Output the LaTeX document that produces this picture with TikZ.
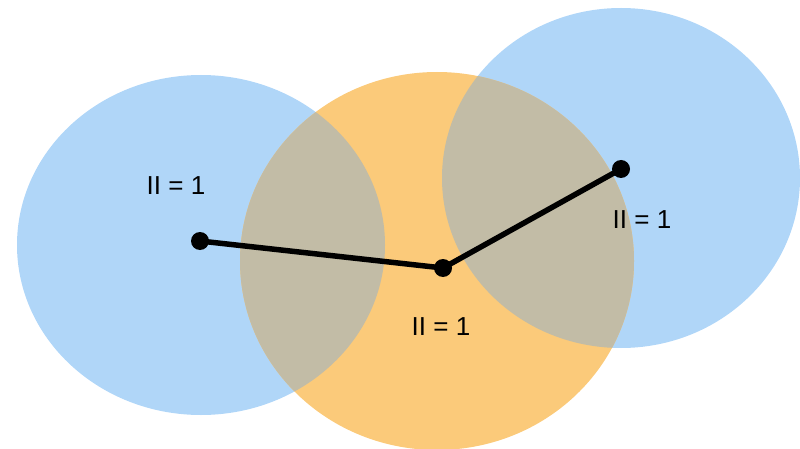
\documentclass[tikz,border=0pt]{standalone}
\usepackage{fontspec}
\setmainfont{Liberation Sans}
\begin{document}
\begin{tikzpicture}[x=1pt,y=-1pt,
  dot/.style={circle,fill=black,inner sep=0pt,minimum size=18pt},
  lbl/.style={font=\fontsize{26}{30}\selectfont,inner sep=0pt},
  link/.style={line width=5.5pt}]
\definecolor{bluefill}{RGB}{176,214,248}
\definecolor{orangefill}{RGB}{251,202,122}
\definecolor{mixfill}{RGB}{194,188,166}
\useasboundingbox (0,0) rectangle (800,449);
\fill[bluefill] (201,245) ellipse [x radius=184, y radius=170];
\fill[bluefill] (621,178) ellipse [x radius=179, y radius=170];
\fill[orangefill] (437,261) ellipse [x radius=197, y radius=189];
\begin{scope}
  \clip (437,261) ellipse [x radius=197, y radius=189];
  \fill[mixfill] (201,245) ellipse [x radius=184, y radius=170];
  \fill[mixfill] (621,178) ellipse [x radius=179, y radius=170];
\end{scope}
\node[lbl] (t1) at (176,186) {II = 1};
\node[lbl] (t2) at (441,327) {II = 1};
\node[lbl] (t3) at (642,220) {II = 1};
\node[dot] (a) at (200,241) {};
\node[dot] (b) at (443,268) {};
\node[dot] (c) at (621,169) {};
\draw[link] (a.center) -- (b.center) -- (c.center);
\end{tikzpicture}
\end{document}
